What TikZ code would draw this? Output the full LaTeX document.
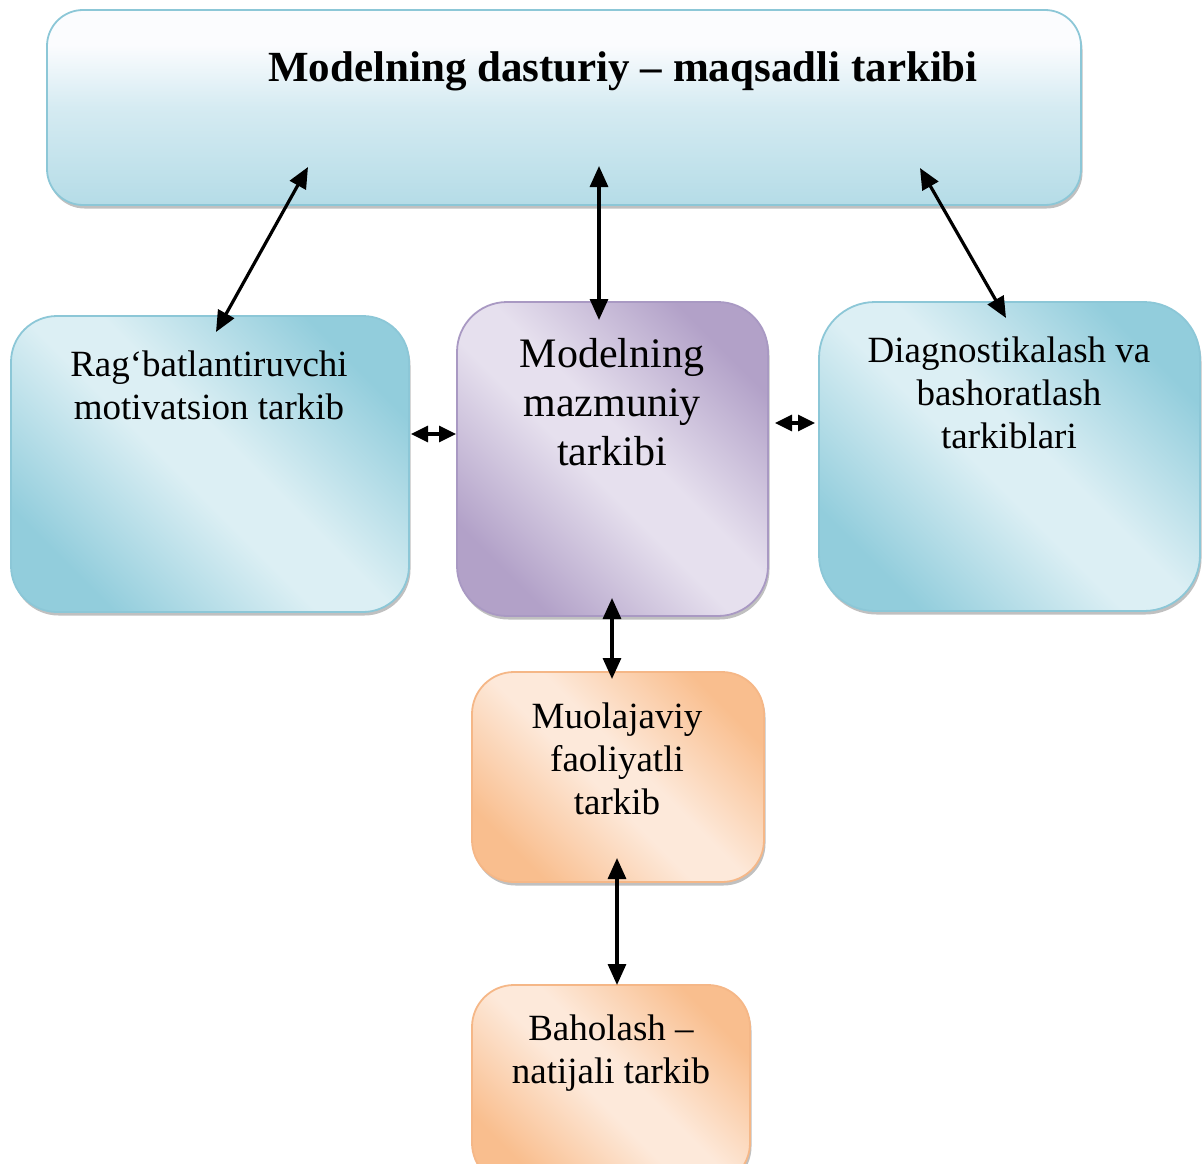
\documentclass[tikz,border=0pt]{standalone}
\usepackage{fontspec}
\setmainfont{Liberation Serif}
\usetikzlibrary{arrows.meta,shadows}

\definecolor{aquaD}{HTML}{92CDDC}
\definecolor{aquaL}{HTML}{DCEFF4}
\definecolor{aquaE}{HTML}{8CC7D7}
\definecolor{aquaB}{HTML}{B5DCE7}
\definecolor{aquaM}{HTML}{D5EBF2}
\definecolor{aquaW}{HTML}{FBFCFE}
\definecolor{lilacD}{HTML}{B2A1C8}
\definecolor{lilacL}{HTML}{E6E0EE}
\definecolor{lilacE}{HTML}{A999C3}
\definecolor{peachD}{HTML}{F9BE8E}
\definecolor{peachL}{HTML}{FDE9DA}
\definecolor{peachE}{HTML}{F5B787}

% diagonal fills: dark corners, light band across the middle
\pgfdeclarehorizontalshading{aquadiag}{100bp}{color(0bp)=(aquaD); color(25bp)=(aquaD); color(46bp)=(aquaL); color(54bp)=(aquaL); color(75bp)=(aquaD); color(100bp)=(aquaD)}
\pgfdeclarehorizontalshading{lilacdiag}{100bp}{color(0bp)=(lilacD); color(25bp)=(lilacD); color(46bp)=(lilacL); color(54bp)=(lilacL); color(75bp)=(lilacD); color(100bp)=(lilacD)}
\pgfdeclarehorizontalshading{peachdiag}{100bp}{color(0bp)=(peachD); color(25bp)=(peachD); color(46bp)=(peachL); color(54bp)=(peachL); color(75bp)=(peachD); color(100bp)=(peachD)}
% vertical fill of the heading panel
\pgfdeclareverticalshading{aquatop}{100bp}{color(0bp)=(aquaB); color(25bp)=(aquaB); color(50bp)=(aquaM); color(66bp)=(aquaW); color(100bp)=(aquaW)}

\tikzset{
  panel/.style={rectangle, inner sep=0pt, line width=1.8pt,
    drop shadow={shadow xshift=1.5pt, shadow yshift=-3.5pt, fill=black!55, opacity=.45}},
  aquabox/.style={panel, draw=aquaE, shading=aquadiag, shading angle=45},
  lilacbox/.style={panel, draw=lilacE, shading=lilacdiag, shading angle=45},
  peachbox/.style={panel, draw=peachE, shading=peachdiag, shading angle=45},
  headbox/.style={panel, draw=aquaE, shading=aquatop},
  sidetxt/.style={align=center, inner sep=0pt, font=\fontsize{37}{43}\selectfont},
  midtxt/.style={align=center, inner sep=0pt, font=\fontsize{42}{49}\selectfont},
  headtxt/.style={align=center, inner sep=0pt, font=\fontsize{43}{50}\selectfont\bfseries},
  link/.style={{Triangle[length=21pt,width=18pt]}-{Triangle[length=21pt,width=18pt]}, line width=3.2pt},
  shortlink/.style={{Triangle[length=17pt,width=16pt]}-{Triangle[length=17pt,width=16pt]}, line width=3.2pt}
}

\begin{document}
\begin{tikzpicture}[x=1pt, y=-1pt]
\clip (0,0) rectangle (1203,1164);

% panels
\node[headbox, rounded corners=36pt, minimum width=1034pt, minimum height=195pt] (goal) at (564,107.5) {};
\node[aquabox, rounded corners=46pt, minimum width=398pt, minimum height=296pt] (motiv) at (210,464) {};
\node[lilacbox, rounded corners=50pt, minimum width=311pt, minimum height=314pt] (content) at (612.5,459) {};
\node[aquabox, rounded corners=56pt, minimum width=381pt, minimum height=309pt] (diag) at (1009.5,456.5) {};
\node[peachbox, rounded corners=42pt, minimum width=292pt, minimum height=210pt] (proc) at (618,777) {};
\node[peachbox, rounded corners=42pt, minimum width=278pt, minimum height=200pt] (eval) at (611,1085) {};

% captions
\node[headtxt] (goaltxt) at (623,71) {Modelning dasturiy – maqsadli tarkibi};
\node[sidetxt] (motivtxt) at (209,385) {Rag‘batlantiruvchi\\motivatsion tarkib};
\node[midtxt] (contenttxt) at (612,402) {Modelning\\mazmuniy\\tarkibi};
\node[sidetxt] (diagtxt) at (1009,393) {Diagnostikalash va\\bashoratlash\\tarkiblari};
\node[sidetxt] (proctxt) at (617,759) {Muolajaviy\\faoliyatli\\tarkib};
\node[sidetxt] (evaltxt) at (611,1053) {Baholash –\\natijali tarkib};

% arrow ends
\coordinate (g1) at (308,167); \coordinate (m1) at (216,332);
\coordinate (g2) at (599,166); \coordinate (c0) at (599,320);
\coordinate (g3) at (920,168); \coordinate (d1) at (1006,318);
\coordinate (m2) at (411,434); \coordinate (c1) at (456,434);
\coordinate (c2) at (775,423); \coordinate (d2) at (815,423);
\coordinate (c3) at (612,598); \coordinate (p1) at (612,679);
\coordinate (p2) at (617,858); \coordinate (e1) at (617,985);

% connectors
\draw[link] (g1) -- (m1);
\draw[link] (g2) -- (c0);
\draw[link] (g3) -- (d1);
\draw[shortlink] (m2) -- (c1);
\draw[shortlink] (c2) -- (d2);
\draw[link] (c3) -- (p1);
\draw[link] (p2) -- (e1);
\end{tikzpicture}
\end{document}
